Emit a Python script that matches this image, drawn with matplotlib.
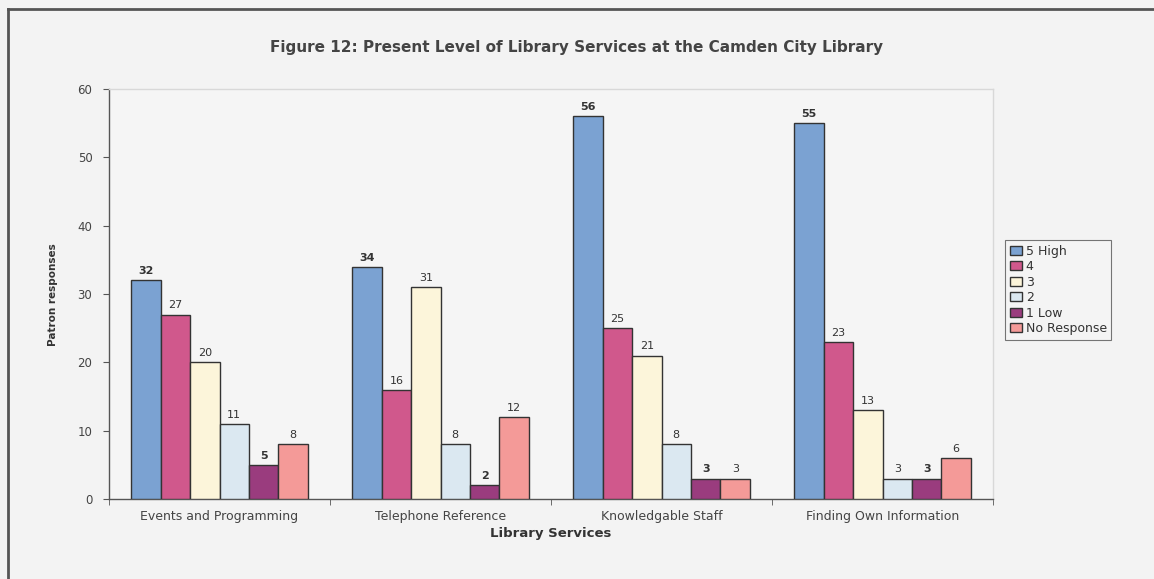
import matplotlib.pyplot as plt
import numpy as np

services = ["Events and Programming", "Telephone Reference",
            "Knowledgable Staff", "Finding Own Information"]
ratings = ["5 High", "4", "3", "2", "1 Low", "No Response"]
high5 = [32, 34, 56, 55]
four = [27, 16, 25, 23]
three = [20, 31, 21, 13]
two = [11, 8, 8, 3]
low1 = [5, 2, 3, 3]
no_resp = [8, 12, 3, 6]

series = [high5, four, three, two, low1, no_resp]
colors = ["#7ba2d2", "#d0588c", "#fcf5da", "#dbe8f1", "#9a3c7e", "#f49a98"]
bold_series = {0, 4}

bg = "#f3f3f3"
txt = "#444444"
plt.rcParams["font.family"] = ["DejaVu Sans"]

fig = plt.figure(figsize=(11.54, 5.79), dpi=100, facecolor=bg)
ax = fig.add_axes([0.0945, 0.138, 0.766, 0.708], facecolor="#f5f5f5")

x = np.arange(len(services))
w = 0.8 / len(series)
for i, (vals, c) in enumerate(zip(series, colors)):
    pos = x - 0.4 + w * (i + 0.5)
    bars = ax.bar(pos, vals, w, color=c, edgecolor="#333333", linewidth=1.0,
                  label=ratings[i], zorder=3)
    ax.bar_label(bars, labels=[str(v) for v in vals], padding=3, fontsize=8,
                 color="#333333",
                 fontweight="bold" if i in bold_series else "normal")

ax.set_xlim(-0.5, len(services) - 0.5)
ax.set_ylim(0, 60)
ax.set_yticks(range(0, 61, 10))
ax.set_xticks(x)
ax.set_xticklabels(services, fontsize=9, color=txt)
ax.set_xticks(np.arange(-0.5, len(services), 1.0), minor=True)
ax.tick_params(axis="x", which="major", length=0, pad=8)
ax.tick_params(axis="x", which="minor", length=4, color="#555555")
ax.tick_params(axis="y", length=4, color="#555555", labelsize=8.5,
               labelcolor=txt, pad=8)

for side in ("left", "bottom"):
    ax.spines[side].set_color("#555555")
    ax.spines[side].set_linewidth(1.0)
for side in ("top", "right"):
    ax.spines[side].set_color("#d8d8d8")
    ax.spines[side].set_linewidth(1.0)

ax.set_ylabel("Patron responses", fontsize=7.5, fontweight="bold",
              color="#333333", labelpad=14)
ax.set_xlabel("Library Services", fontsize=9.5, fontweight="bold",
              color="#333333", labelpad=3)

fig.text(0.5, 0.918,
         "Figure 12: Present Level of Library Services at the Camden City Library",
         ha="center", va="center", fontsize=11, fontweight="bold",
         color="#444444")

leg = fig.legend(loc="upper left", bbox_to_anchor=(0.871, 0.585),
                 fontsize=9, frameon=True, fancybox=False,
                 edgecolor="#555555", facecolor="#f5f5f5",
                 handlelength=1.0, handleheight=0.7, handletextpad=0.3,
                 labelspacing=0.2, borderpad=0.35, borderaxespad=0)
leg.get_frame().set_linewidth(0.8)
for t in leg.get_texts():
    t.set_color("#333333")

# outer frame around the chart
fig.add_artist(plt.Line2D([0.007, 1.0], [0.984, 0.984], transform=fig.transFigure,
                          color="#555555", linewidth=2.0))
fig.add_artist(plt.Line2D([0.007, 0.007], [0.0, 0.984], transform=fig.transFigure,
                          color="#555555", linewidth=2.0))

fig.savefig("out.png", dpi=100, facecolor=bg)
